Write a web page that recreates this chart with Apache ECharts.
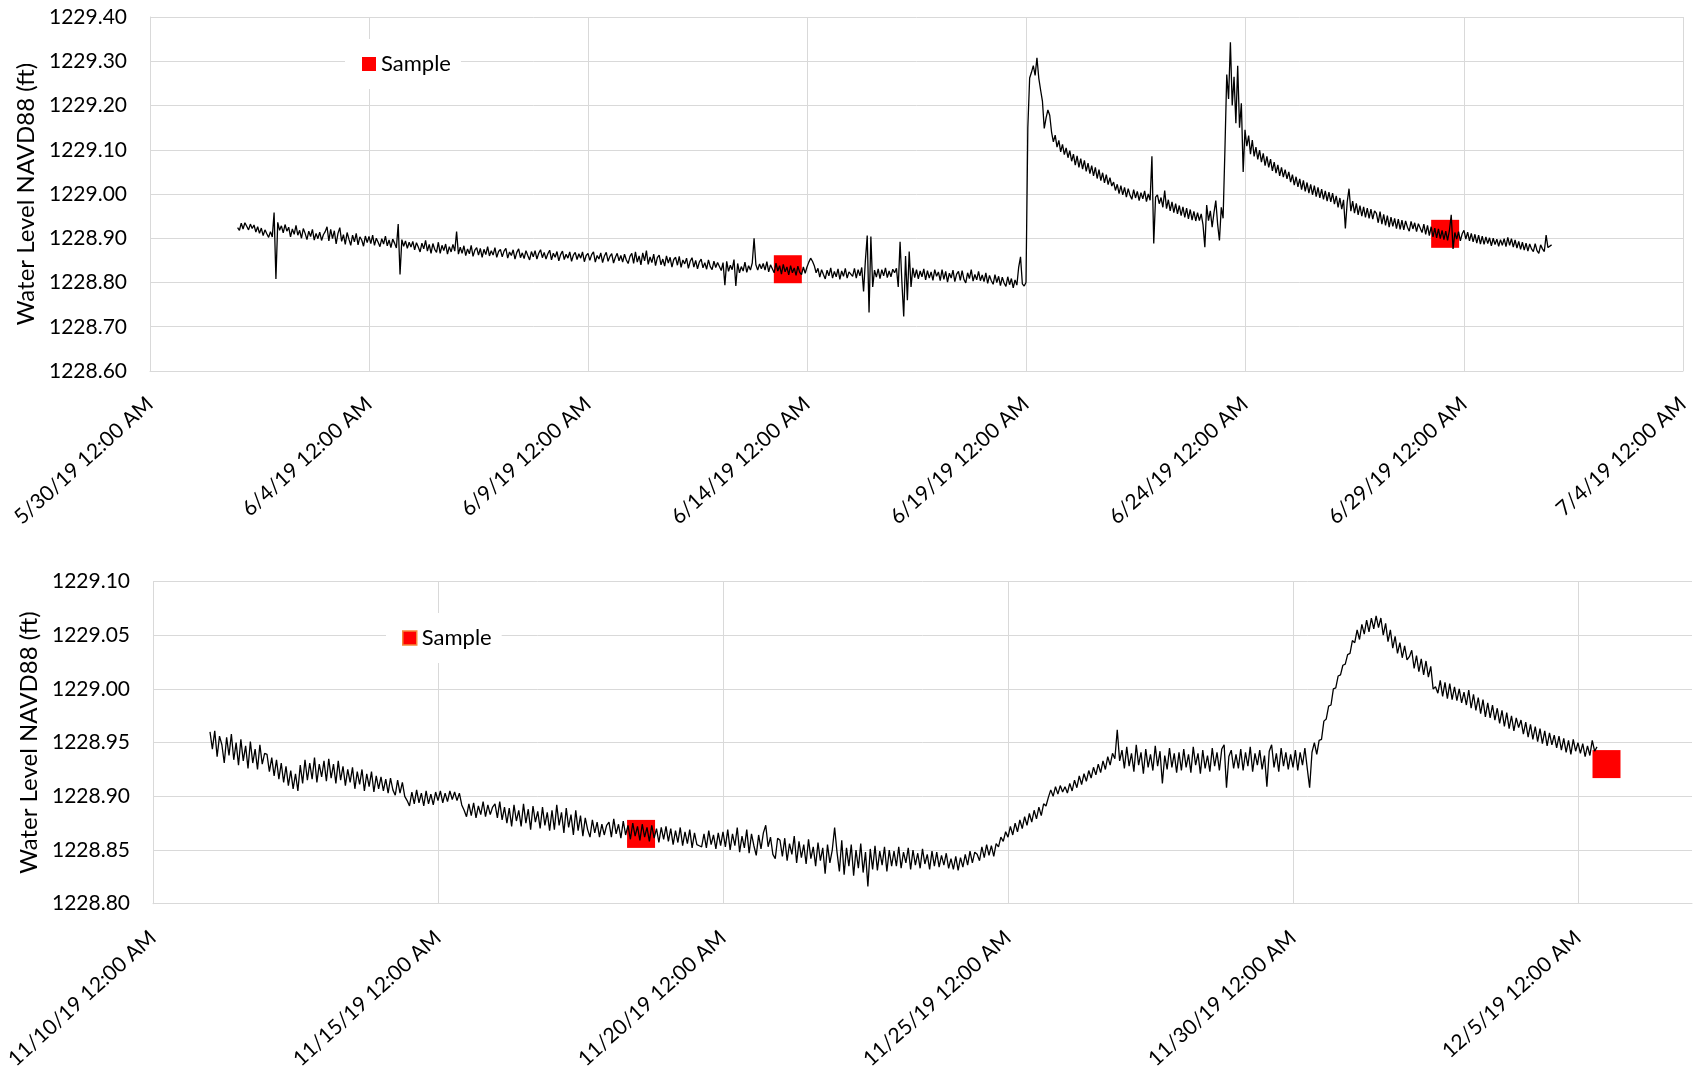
<!DOCTYPE html>
<html>
<head>
<meta charset="utf-8">
<script src="https://cdn.jsdelivr.net/npm/echarts@6/dist/echarts.min.js"></script>
<style>
html,body{margin:0;padding:0;background:#fff;}
#c{width:1700px;height:1072px;}
</style>
</head>
<body>
<div id="c"></div>
<script>
// ---------------- DATA ----------------
// Top panel: hourly logger readings from 6/1/19 00:00 (one row per day)
const topStart = '2019-06-01 00:00';
const topStepHours = 1;
const topLevels = [
 1228.924,1228.918,1228.934,1228.921,1228.935,1228.927,1228.919,1228.932,1228.922,1228.930,1228.914,1228.926,1228.911,1228.923,1228.906,1228.919,1228.910,1228.902,1228.915,1228.903,1228.958,1228.808,1228.936,1228.918,
 1228.928,1228.912,1228.931,1228.916,1228.925,1228.903,1228.921,1228.909,1228.929,1228.907,1228.918,1228.900,1228.922,1228.911,1228.897,1228.916,1228.904,1228.920,1228.896,1228.911,1228.899,1228.914,1228.895,1228.908,
 1228.915,1228.926,1228.894,1228.920,1228.899,1228.917,1228.887,1228.911,1228.924,1228.893,1228.908,1228.886,1228.913,1228.898,1228.884,1228.907,1228.892,1228.911,1228.885,1228.903,1228.896,1228.882,1228.905,1228.890,
 1228.904,1228.888,1228.907,1228.884,1228.900,1228.891,1228.881,1228.899,1228.887,1228.905,1228.883,1228.896,1228.879,1228.898,1228.889,1228.878,1228.932,1228.818,1228.897,1228.882,1228.894,1228.877,1228.891,1228.880,
 1228.893,1228.874,1228.890,1228.880,1228.869,1228.889,1228.876,1228.895,1228.871,1228.886,1228.866,1228.888,1228.875,1228.868,1228.891,1228.866,1228.884,1228.872,1228.887,1228.864,1228.881,1228.869,1228.886,1228.871,
 1228.915,1228.864,1228.880,1228.866,1228.883,1228.861,1228.876,1228.865,1228.884,1228.859,1228.873,1228.879,1228.862,1228.877,1228.857,1228.875,1228.863,1228.881,1228.860,1228.872,1228.862,1228.879,1228.857,1228.870,
 1228.875,1228.858,1228.871,1228.877,1228.855,1228.869,1228.861,1228.874,1228.853,1228.868,1228.876,1228.856,1228.867,1228.854,1228.872,1228.861,1228.851,1228.870,1228.858,1228.872,1228.853,1228.866,1228.874,1228.856,
 1228.868,1228.853,1228.865,1228.873,1228.851,1228.866,1228.857,1228.870,1228.849,1228.863,1228.871,1228.852,1228.864,1228.855,1228.869,1228.848,1228.862,1228.868,1228.852,1228.865,1228.855,1228.869,1228.847,1228.861,
 1228.866,1228.850,1228.863,1228.869,1228.846,1228.861,1228.853,1228.867,1228.845,1228.860,1228.868,1228.848,1228.859,1228.865,1228.844,1228.857,1228.866,1228.849,1228.861,1228.846,1228.864,1228.851,1228.843,1228.859,
 1228.866,1228.843,1228.869,1228.846,1228.860,1228.840,1228.867,1228.849,1228.872,1228.841,1228.858,1228.845,1228.864,1228.838,1228.856,1228.862,1228.840,1228.853,1228.837,1228.860,1228.844,1228.857,1228.835,1228.852,
 1228.857,1228.839,1228.859,1228.834,1228.851,1228.842,1228.855,1228.832,1228.848,1228.856,1228.835,1228.850,1228.831,1228.846,1228.853,1228.833,1228.845,1228.830,1228.851,1228.836,1228.829,1228.848,1228.834,1228.845,
 1228.841,1228.827,1228.845,1228.794,1228.848,1228.825,1228.839,1228.829,1228.852,1228.792,1228.843,1228.822,1228.836,1228.826,1228.846,1228.823,1228.838,1228.828,1228.844,1228.900,1228.840,1228.828,1228.842,1228.831,
 1228.843,1228.828,1228.847,1228.824,1228.840,1228.831,1228.822,1228.844,1228.826,1228.838,1228.819,1228.841,1228.824,1228.835,1228.817,1228.838,1228.822,1228.833,1228.816,1228.837,1228.823,1228.818,1228.835,1228.821,
 1228.835,1228.846,1228.855,1228.848,1228.838,1228.822,1228.832,1228.812,1228.829,1228.818,1228.808,1228.828,1228.815,1228.833,1228.810,1228.825,1228.813,1228.831,1228.807,1228.826,1228.814,1228.832,1228.810,1228.824,
 1228.827,1228.814,1228.832,1228.810,1228.829,1228.815,1228.834,1228.780,1228.850,1228.906,1228.732,1228.904,1228.790,1228.828,1228.812,1228.831,1228.809,1228.829,1228.815,1228.833,1228.811,1228.826,1228.813,1228.830,
 1228.822,1228.832,1228.790,1228.892,1228.800,1228.723,1228.860,1228.760,1228.870,1228.790,1228.833,1228.811,1228.829,1228.808,1228.826,1228.813,1228.831,1228.806,1228.827,1228.810,1228.824,1228.805,1228.829,1228.814,
 1228.824,1228.804,1228.829,1228.807,1228.825,1228.801,1228.821,1228.810,1228.828,1228.802,1228.819,1228.825,1228.805,1228.827,1228.807,1228.799,1228.822,1228.809,1228.829,1228.803,1228.818,1228.806,1228.825,1228.804,
 1228.817,1228.802,1228.822,1228.798,1228.816,1228.804,1228.796,1228.818,1228.800,1228.814,1228.793,1228.812,1228.799,1228.791,1228.813,1228.795,1228.809,1228.788,1228.806,1228.794,1228.835,1228.858,1228.797,1228.792,
 1228.800,1229.150,1229.262,1229.275,1229.290,1229.268,1229.308,1229.262,1229.235,1229.210,1229.148,1229.172,1229.190,1229.178,1229.140,1229.118,1229.133,1229.106,1229.121,1229.095,1229.112,1229.089,1229.104,1229.082,
 1229.098,1229.074,1229.090,1229.065,1229.086,1229.060,1229.080,1229.056,1229.076,1229.051,1229.070,1229.046,1229.064,1229.041,1229.060,1229.035,1229.055,1229.030,1229.048,1229.025,1229.044,1229.021,1229.037,1229.018,
 1229.027,1229.008,1229.022,1229.001,1229.019,1228.998,1229.015,1228.993,1229.012,1228.997,1228.988,1229.010,1228.991,1229.006,1228.985,1229.003,1228.989,1229.007,1228.983,1229.000,1228.986,1229.085,1228.888,1228.993,
 1228.998,1228.978,1228.992,1228.970,1229.008,1228.967,1228.987,1228.962,1228.982,1228.958,1228.978,1228.955,1228.974,1228.951,1228.971,1228.947,1228.968,1228.944,1228.965,1228.941,1228.961,1228.939,1228.958,1228.940,
 1228.955,1228.930,1228.880,1228.975,1228.940,1228.962,1228.925,1228.958,1228.985,1228.932,1228.895,1228.970,1228.945,1229.100,1229.270,1229.215,1229.343,1229.200,1229.265,1229.160,1229.290,1229.150,1229.205,1229.050,
 1229.145,1229.108,1229.132,1229.090,1229.122,1229.085,1229.106,1229.078,1229.099,1229.072,1229.092,1229.064,1229.085,1229.060,1229.079,1229.052,1229.072,1229.047,1229.066,1229.041,1229.060,1229.038,1229.055,1229.034,
 1229.050,1229.027,1229.044,1229.020,1229.039,1229.016,1229.034,1229.010,1229.031,1229.006,1229.026,1229.002,1229.022,1228.998,1229.019,1228.994,1229.015,1228.991,1229.011,1228.988,1229.007,1228.984,1229.004,1228.982,
 1229.002,1228.977,1228.996,1228.970,1228.991,1228.966,1228.987,1228.922,1228.982,1229.012,1228.961,1228.984,1228.957,1228.979,1228.953,1228.974,1228.950,1228.971,1228.947,1228.968,1228.945,1228.966,1228.943,1228.962,
 1228.956,1228.935,1228.960,1228.932,1228.954,1228.929,1228.951,1228.925,1228.948,1228.927,1228.945,1228.922,1228.943,1228.920,1228.941,1228.919,1228.939,1228.925,1228.916,1228.938,1228.921,1228.935,1228.915,1228.933,
 1228.936,1228.913,1228.932,1228.909,1228.929,1228.906,1228.926,1228.903,1228.923,1228.901,1228.921,1228.899,1228.918,1228.897,1228.916,1228.895,1228.917,1228.953,1228.876,1228.913,1228.898,1228.915,1228.894,1228.910,
 1228.918,1228.898,1228.914,1228.894,1228.911,1228.892,1228.909,1228.889,1228.907,1228.887,1228.905,1228.886,1228.903,1228.888,1228.901,1228.883,1228.900,1228.886,1228.898,1228.882,1228.897,1228.884,1228.899,1228.881,
 1228.902,1228.884,1228.899,1228.880,1228.896,1228.878,1228.893,1228.875,1228.891,1228.873,1228.889,1228.871,1228.887,1228.876,1228.870,1228.888,1228.872,1228.866,1228.885,1228.876,1228.870,1228.907,1228.879,1228.875,
 1228.885
];
const topSampleTimes = ['2019-06-13 13:30','2019-06-28 13:40'];
const topSampleLevels = [1228.83, 1228.91];
const topAxisStart = '2019-05-30 00:00';
const topAxisEnd = '2019-07-04 00:00';
const topTickLabels = ['5/30/19 12:00 AM','6/4/19 12:00 AM','6/9/19 12:00 AM','6/14/19 12:00 AM','6/19/19 12:00 AM','6/24/19 12:00 AM','6/29/19 12:00 AM','7/4/19 12:00 AM'];

// Bottom panel: hourly logger readings from 11/11/19 00:00 (one row per day)
const botStart = '2019-11-11 00:00';
const botStepHours = 1;
const botLevels = [
 1228.960,1228.944,1228.961,1228.937,1228.956,1228.948,1228.931,1228.955,1228.938,1228.958,1228.934,1228.950,1228.929,1228.953,1228.933,1228.947,1228.926,1228.951,1228.931,1228.944,1228.925,1228.948,1228.930,1228.940,
 1228.939,1228.923,1228.936,1228.919,1228.934,1228.916,1228.931,1228.913,1228.928,1228.910,1228.924,1228.907,1228.921,1228.905,1228.929,1228.912,1228.934,1228.915,1228.931,1228.916,1228.936,1228.913,1228.930,1228.918,
 1228.933,1228.914,1228.935,1228.917,1228.930,1228.912,1228.933,1228.915,1228.928,1228.910,1228.925,1228.913,1228.927,1228.907,1228.923,1228.911,1228.925,1228.905,1228.921,1228.909,1228.923,1228.904,1228.919,1228.907,
 1228.918,1228.905,1228.916,1228.903,1228.917,1228.906,1228.901,1228.915,1228.903,1228.913,1228.900,1228.896,1228.891,1228.904,1228.893,1228.906,1228.894,1228.903,1228.891,1228.905,1228.893,1228.902,1228.892,1228.904,
 1228.896,1228.905,1228.894,1228.903,1228.895,1228.905,1228.897,1228.904,1228.896,1228.903,1228.892,1228.887,1228.881,1228.893,1228.882,1228.894,1228.880,1228.891,1228.883,1228.895,1228.881,1228.892,1228.883,1228.890,
 1228.893,1228.880,1228.895,1228.878,1228.890,1228.875,1228.889,1228.872,1228.892,1228.877,1228.887,1228.872,1228.893,1228.875,1228.888,1228.869,1228.891,1228.876,1228.886,1228.870,1228.890,1228.873,1228.885,1228.868,
 1228.887,1228.869,1228.892,1228.873,1228.885,1228.866,1228.889,1228.871,1228.883,1228.864,1228.887,1228.868,1228.882,1228.863,1228.880,1228.869,1228.862,1228.878,1228.866,1228.876,1228.862,1228.874,1228.864,1228.873,
 1228.876,1228.862,1228.879,1228.865,1228.874,1228.861,1228.877,1228.864,1228.873,1228.860,1228.875,1228.863,1228.872,1228.859,1228.874,1228.862,1228.871,1228.858,1228.873,1228.861,1228.870,1228.857,1228.871,1228.860,
 1228.872,1228.858,1228.870,1228.855,1228.868,1228.857,1228.871,1228.854,1228.867,1228.856,1228.869,1228.852,1228.866,1228.855,1228.854,1228.853,1228.865,1228.852,1228.868,1228.855,1228.864,1228.851,1228.866,1228.854,
 1228.867,1228.853,1228.869,1228.850,1228.865,1228.854,1228.871,1228.848,1228.863,1228.852,1228.869,1228.847,1228.865,1228.854,1228.845,1228.864,1228.851,1228.866,1228.873,1228.853,1228.862,1228.846,1228.842,1228.861,
 1228.859,1228.844,1228.861,1228.840,1228.856,1228.846,1228.863,1228.838,1228.858,1228.843,1228.855,1228.837,1228.860,1228.842,1228.853,1228.835,1228.857,1228.840,1228.852,1228.828,1228.855,1228.838,1228.850,1228.871,
 1228.848,1228.830,1228.859,1228.827,1228.852,1228.835,1228.855,1228.826,1228.850,1228.833,1228.856,1228.829,1228.848,1228.816,1228.851,1228.832,1228.854,1228.831,1228.849,1228.836,1228.853,1228.830,1228.850,1228.835,
 1228.849,1228.835,1228.853,1228.833,1228.848,1228.838,1228.852,1228.832,1228.850,1228.836,1228.847,1228.833,1228.851,1228.837,1228.846,1228.832,1228.849,1228.835,1228.848,1228.834,1228.845,1228.836,1228.847,1228.833,
 1228.842,1228.832,1228.844,1228.831,1228.843,1228.834,1228.846,1228.836,1228.849,1228.838,1228.848,1228.846,1228.840,1228.853,1228.843,1228.855,1228.845,1228.854,1228.844,1228.856,1228.853,1228.862,1228.858,1228.867,
 1228.862,1228.872,1228.864,1228.875,1228.867,1228.878,1228.870,1228.881,1228.873,1228.884,1228.876,1228.887,1228.879,1228.890,1228.882,1228.893,1228.891,1228.899,1228.906,1228.900,1228.909,1228.902,1228.910,1228.904,
 1228.909,1228.903,1228.912,1228.905,1228.915,1228.908,1228.919,1228.911,1228.921,1228.914,1228.924,1228.917,1228.927,1228.920,1228.930,1228.922,1228.933,1228.925,1228.937,1228.929,1228.940,1228.935,1228.962,1228.933,
 1228.943,1228.926,1228.946,1228.928,1228.940,1228.923,1228.948,1228.929,1228.941,1228.921,1228.944,1228.927,1228.939,1228.924,1228.947,1228.928,1228.942,1228.912,1228.938,1228.925,1228.945,1228.927,1228.940,1228.922,
 1228.941,1228.924,1228.944,1228.927,1228.939,1228.922,1228.946,1228.929,1228.940,1228.921,1228.943,1228.926,1228.938,1228.923,1228.945,1228.928,1228.941,1228.924,1228.944,1228.948,1228.908,1228.937,1228.943,1228.926,
 1228.939,1228.926,1228.944,1228.924,1228.941,1228.928,1228.946,1228.923,1228.940,1228.929,1228.943,1228.925,1228.938,1228.909,1228.942,1228.948,1228.927,1228.940,1228.923,1228.945,1228.928,1228.941,1228.925,1228.939,
 1228.927,1228.943,1228.924,1228.941,1228.929,1228.945,1228.926,1228.908,1228.941,1228.950,1228.939,1228.952,1228.953,1228.970,1228.972,1228.984,1228.985,1229.000,1229.001,1229.012,1229.013,1229.022,1229.023,1229.032,
 1229.033,1229.045,1229.043,1229.055,1229.046,1229.060,1229.051,1229.064,1229.053,1229.066,1229.056,1229.068,1229.057,1229.066,1229.050,1229.061,1229.044,1229.055,1229.038,1229.049,1229.033,1229.043,1229.029,1229.040,
 1229.027,1229.030,1229.036,1229.019,1229.031,1229.016,1229.028,1229.013,1229.026,1229.011,1229.021,1229.000,1229.002,1228.996,1229.008,1228.993,1229.006,1228.991,1229.005,1228.990,1229.002,1228.989,1229.000,1228.987,
 1228.997,1228.985,1228.999,1228.982,1228.995,1228.980,1228.992,1228.977,1228.990,1228.974,1228.987,1228.973,1228.985,1228.971,1228.982,1228.968,1228.980,1228.965,1228.978,1228.963,1228.975,1228.961,1228.973,1228.964,
 1228.971,1228.958,1228.969,1228.955,1228.967,1228.953,1228.965,1228.951,1228.963,1228.949,1228.961,1228.947,1228.959,1228.948,1228.957,1228.945,1228.956,1228.943,1228.954,1228.941,1228.952,1228.939,1228.953,1228.942,
 1228.950,1228.940,1228.949,1228.937,1228.947,1228.938,1228.952,1228.942,1228.946
];
const botSampleTimes = ['2019-11-18 13:30','2019-12-05 12:00'];
const botSampleLevels = [1228.865, 1228.93];
const botAxisStart = '2019-11-10 00:00';
const botAxisEnd = '2019-12-07 00:00';
const botTickLabels = ['11/10/19 12:00 AM','11/15/19 12:00 AM','11/20/19 12:00 AM','11/25/19 12:00 AM','11/30/19 12:00 AM','12/5/19 12:00 AM'];

// ---------------- HELPERS ----------------
const HOUR = 3600e3, DAY = 86400e3;
function utc(s){
  const [d, t] = s.split(' ');
  const [Y, M, D] = d.split('-').map(Number);
  const [h, m] = (t || '00:00').split(':').map(Number);
  return Date.UTC(Y, M - 1, D, h, m);
}
function buildLine(start, step, levels){
  const t0 = utc(start);
  return levels.map((v, i) => [t0 + i * step * HOUR, v]);
}
function buildSamples(times, levels){
  return times.map((t, i) => [utc(t), levels[i]]);
}
function tickFormatter(minTs, labels){
  return function(v){
    const k = (v - minTs) / (5 * DAY);
    const r = Math.round(k);
    return Math.abs(k - r) < 1e-6 ? (labels[r] || '') : '';
  };
}

const FONT = 'Lato';
const GRID_COLOR = '#d9d9d9';

function xAxisCfg(grid, start, end, labels, margin, showMax){
  const mn = utc(start), mx = utc(end);
  return {
    gridIndex: grid, type: 'value', min: mn, max: mx, interval: 5 * DAY,
    axisLine: {show: true, lineStyle: {color: GRID_COLOR, width: 1}},
    axisTick: {show: false},
    splitLine: {show: true, showMaxLine: showMax, lineStyle: {color: GRID_COLOR, width: 1}},
    axisLabel: {rotate: 42, margin: margin, fontSize: 21, color: '#000', fontFamily: FONT,
      formatter: tickFormatter(mn, labels)}
  };
}
function yAxisCfg(grid, mn, mx, step, gap){
  return {
    gridIndex: grid, type: 'value', min: mn, max: mx, interval: step,
    name: 'Water Level NAVD88 (ft)', nameLocation: 'middle', nameGap: gap, nameRotate: 90,
    nameTextStyle: {fontSize: 24, color: '#000', fontFamily: FONT},
    axisLine: {show: true, lineStyle: {color: GRID_COLOR, width: 1}},
    axisTick: {show: false},
    splitLine: {show: true, lineStyle: {color: GRID_COLOR, width: 1}},
    axisLabel: {margin: 23, fontSize: 21, color: '#000', fontFamily: FONT,
      formatter: v => v.toFixed(2)}
  };
}

const chart = echarts.init(document.getElementById('c'), null, {renderer: 'canvas'});
chart.setOption({
  animation: false,
  backgroundColor: '#fff',
  textStyle: {fontFamily: FONT},
  grid: [
    {left: 150, top: 17, width: 1533, height: 354},
    {left: 153, top: 581.5, width: 1539, height: 326.5}
  ],
  xAxis: [
    xAxisCfg(0, topAxisStart, topAxisEnd, topTickLabels, 30, true),
    xAxisCfg(1, botAxisStart, botAxisEnd, botTickLabels, 31, false)
  ],
  yAxis: [
    yAxisCfg(0, 1228.6, 1229.4, 0.1, 100),
    yAxisCfg(1, 1228.8, 1229.1, 0.05, 102)
  ],
  legend: [
    {data: ['Sample'], left: 345, top: 39, padding: [14, 10, 14, 17], backgroundColor: '#fff',
     itemWidth: 14, itemHeight: 14, icon: 'rect', selectedMode: false,
     textStyle: {fontSize: 22, color: '#000', fontFamily: FONT}},
    {data: [{name: 'Sample', itemStyle: {color: '#ff0000', borderColor: '#f4883a', borderWidth: 1.5}}],
     left: 386, top: 613, padding: [14, 10, 14, 16], backgroundColor: '#fff',
     itemWidth: 14, itemHeight: 14, icon: 'rect', selectedMode: false,
     textStyle: {fontSize: 22, color: '#000', fontFamily: FONT}}
  ],
  series: [
    {type: 'scatter', name: 'Sample', xAxisIndex: 0, yAxisIndex: 0, z: 1,
     data: buildSamples(topSampleTimes, topSampleLevels),
     symbol: 'rect', symbolSize: 28, itemStyle: {color: '#ff0000', opacity: 1}},
    {type: 'line', name: 'Water level (top)', xAxisIndex: 0, yAxisIndex: 0, z: 3,
     data: buildLine(topStart, topStepHours, topLevels),
     showSymbol: false, symbol: 'none', lineStyle: {color: '#000', width: 1.3}, silent: true},
    {type: 'scatter', name: 'Sample', xAxisIndex: 1, yAxisIndex: 1, z: 1,
     data: buildSamples(botSampleTimes, botSampleLevels),
     symbol: 'rect', symbolSize: 28, itemStyle: {color: '#ff0000', opacity: 1}},
    {type: 'line', name: 'Water level (bottom)', xAxisIndex: 1, yAxisIndex: 1, z: 3,
     data: buildLine(botStart, botStepHours, botLevels),
     showSymbol: false, symbol: 'none', lineStyle: {color: '#000', width: 1.3}, silent: true}
  ]
});
</script>
</body>
</html>
